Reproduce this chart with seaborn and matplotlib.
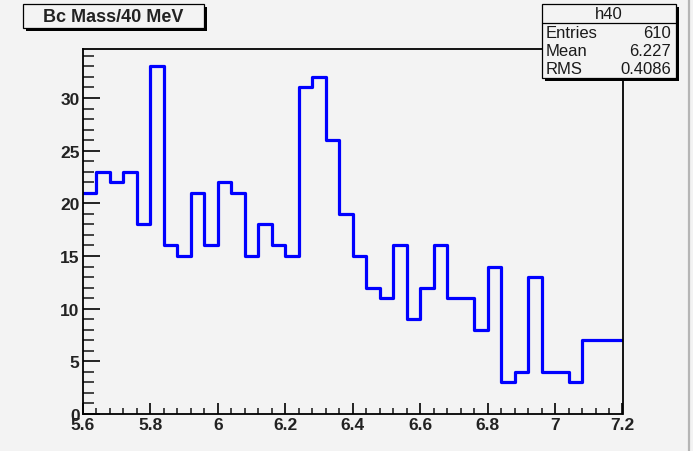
import numpy as np
import pandas as pd
import matplotlib
matplotlib.use("Agg")
import matplotlib.pyplot as plt
import seaborn as sns
from matplotlib.patches import Rectangle
from matplotlib.lines import Line2D
from matplotlib.ticker import MultipleLocator, FormatStrFormatter

# ---- data ----
x_low, x_high, n_bins = 5.6, 7.2, 40
counts = [21, 23, 22, 23, 18, 33, 16, 15, 21, 16,
          22, 21, 15, 18, 16, 15, 31, 32, 26, 19,
          15, 12, 11, 16, 9, 12, 16, 11, 11, 8,
          14, 3, 4, 13, 4, 4, 3, 7, 7, 7]
title_text = "Bc Mass/40 MeV"
hist_name = "h40"
stat_labels = ["Entries", "Mean", "RMS"]
stat_values = ["610", "6.227", "0.4086"]

edges = [float(e) for e in np.linspace(x_low, x_high, n_bins + 1)]
centers = [0.5 * (a + b) for a, b in zip(edges[:-1], edges[1:])]
df = pd.DataFrame({"mass": centers, "count": counts})

# ---- style ----
sns.set_theme(style="ticks")
bg = "#f3f3f3"
plt.rcParams["font.family"] = ["Liberation Sans", "DejaVu Sans"]
plt.rcParams["figure.facecolor"] = bg
plt.rcParams["axes.facecolor"] = bg

W, H = 693, 452
fig = plt.figure(figsize=(W / 100, H / 100), dpi=100)

def fx(x):
    return x / W

def fy(y):
    return 1 - y / H

ax_l, ax_r, ax_t, ax_b = 83, 622.5, 50, 415
ax = fig.add_axes([fx(ax_l), fy(ax_b), fx(ax_r - ax_l), (ax_b - ax_t) / H])

sns.histplot(data=df, x="mass", weights="count", bins=edges, element="step",
             fill=False, color="#0000ff", linewidth=2.3, ax=ax)

ax.set_xlim(x_low, x_high)
ax.set_ylim(0, max(counts) * 1.05)
ax.set_xlabel("")
ax.set_ylabel("")

for s in ax.spines.values():
    s.set_color("black")
    s.set_linewidth(1.3)

ax.xaxis.set_major_locator(MultipleLocator(0.2))
ax.xaxis.set_minor_locator(MultipleLocator(0.04))
ax.yaxis.set_major_locator(MultipleLocator(5))
ax.yaxis.set_minor_locator(MultipleLocator(1))
ax.xaxis.set_major_formatter(FormatStrFormatter("%g"))
ax.yaxis.set_major_formatter(FormatStrFormatter("%g"))

ax.tick_params(axis="x", which="major", direction="in", length=8, width=1.2,
               pad=2, labelsize=12.5, colors="black", top=False)
ax.tick_params(axis="x", which="minor", direction="in", length=4.3, width=1.2, top=False)
ax.tick_params(axis="y", which="major", direction="in", length=12, width=1.2,
               pad=2.5, labelsize=12.5, colors="black", right=False)
ax.tick_params(axis="y", which="minor", direction="in", length=7.7, width=1.2, right=False)
for lab in ax.get_xticklabels() + ax.get_yticklabels():
    lab.set_fontweight("bold")
    lab.set_color("#222222")

# ---- boxes with shadow (ROOT style) ----
def shadow_box(x0, y0, x1, y1, off=3):
    sh = Rectangle((fx(x0 + off), fy(y1 + off)), fx(x1 - x0), (y1 - y0) / H,
                   transform=fig.transFigure, facecolor="black", edgecolor="none",
                   zorder=5)
    bx = Rectangle((fx(x0), fy(y1)), fx(x1 - x0), (y1 - y0) / H,
                   transform=fig.transFigure, facecolor=bg, edgecolor="black",
                   linewidth=0.9, zorder=6)
    fig.add_artist(sh)
    fig.add_artist(bx)

# title box
shadow_box(23, 5, 204, 29)
fig.text(fx(113.5), fy(17.5), title_text, ha="center", va="center",
         fontsize=13, fontweight="bold", color="#222222", zorder=7)

# stats box
sx0, sx1, sy0, sy1 = 542, 676, 5, 79
shadow_box(sx0, sy0, sx1, sy1)
fig.add_artist(Line2D([fx(sx0), fx(sx1)], [fy(24), fy(24)], transform=fig.transFigure,
                      color="black", linewidth=0.9, zorder=7))
fig.text(fx((sx0 + sx1) / 2), fy(14.5), hist_name, ha="center", va="center",
         fontsize=12, color="#1a1a1a", zorder=7)
row_y = [33.5, 52, 70]
for lab, val, yy in zip(stat_labels, stat_values, row_y):
    fig.text(fx(546), fy(yy), lab, ha="left", va="center", fontsize=12,
             color="#1a1a1a", zorder=7)
    fig.text(fx(671), fy(yy), val, ha="right", va="center", fontsize=12,
             color="#1a1a1a", zorder=7)

# window border at right edge
fig.add_artist(Line2D([fx(688.5), fx(688.5)], [0, 1], transform=fig.transFigure,
                      color="#b5b5b5", linewidth=1.6, zorder=7))

fig.savefig("out.png", dpi=100, facecolor=bg)
